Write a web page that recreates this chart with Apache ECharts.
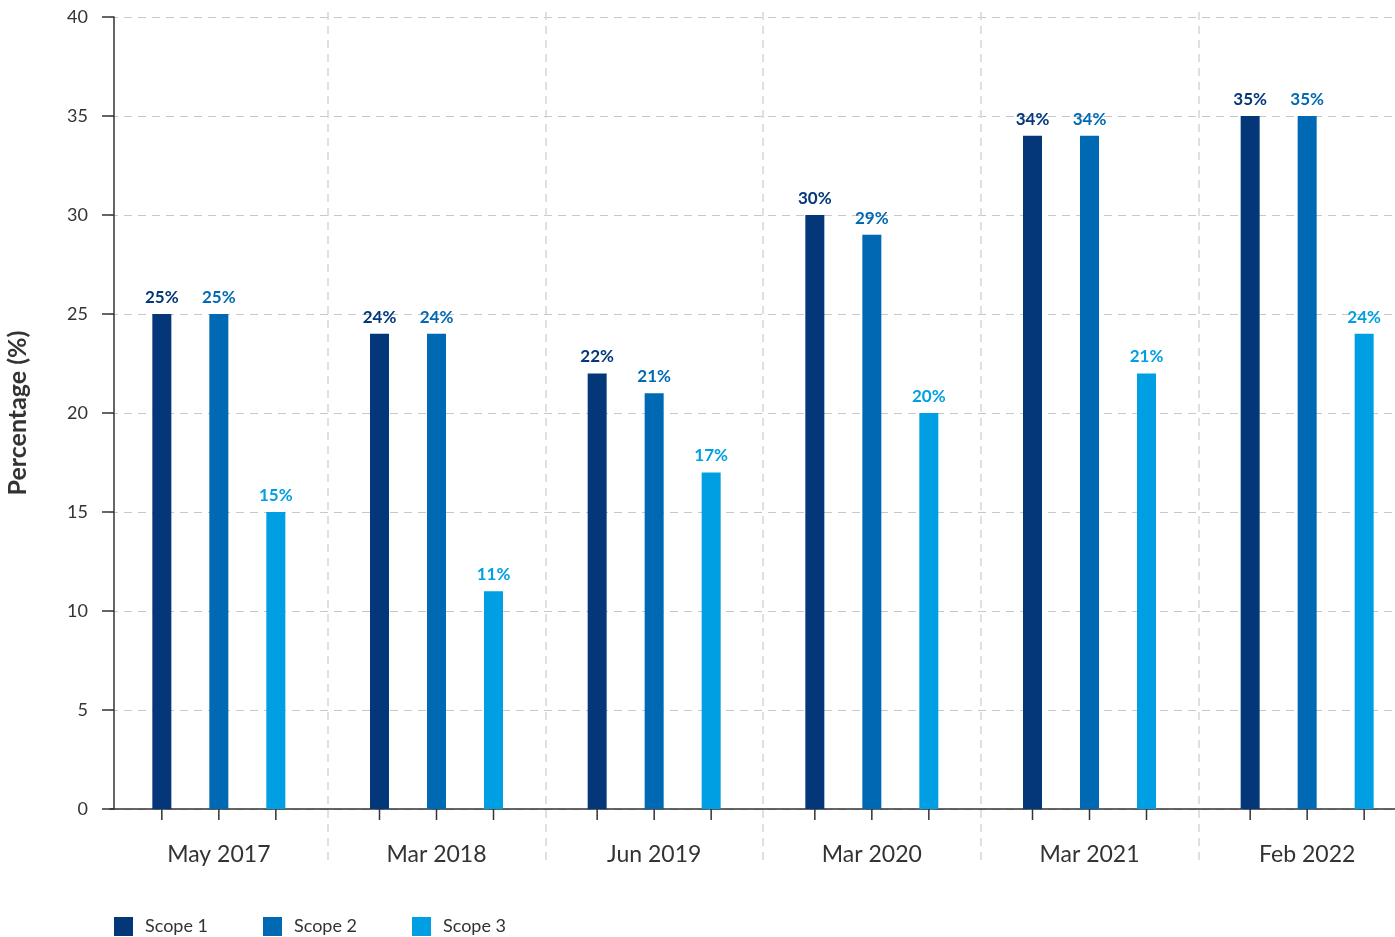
<!DOCTYPE html>
<html>
<head>
<meta charset="utf-8">
<script src="https://cdn.jsdelivr.net/npm/echarts@6/dist/echarts.min.js"></script>
<style>
html,body{margin:0;padding:0;background:#fff;}
#chart{width:1395px;height:937px;}
</style>
</head>
<body>
<div id="chart"></div>
<script>
const categories = ['May 2017', 'Mar 2018', 'Jun 2019', 'Mar 2020', 'Mar 2021', 'Feb 2022'];
const seriesNames = ['Scope 1', 'Scope 2', 'Scope 3'];
const scope1 = [25, 24, 22, 30, 34, 35];
const scope2 = [25, 24, 21, 29, 34, 35];
const scope3 = [15, 11, 17, 20, 22, 24];
const scope1Labels = ['25%', '24%', '22%', '30%', '34%', '35%'];
const scope2Labels = ['25%', '24%', '21%', '29%', '34%', '35%'];
const scope3Labels = ['15%', '11%', '17%', '20%', '21%', '24%'];
const yTicks = [0, 5, 10, 15, 20, 25, 30, 35, 40];

const colors = ['#03377a', '#0069b4', '#009fe3'];
const FONT = 'Lato';
const BAR_W = 19;
const BAR_GAP = 2; // 200%
const step = BAR_W * (1 + BAR_GAP);

const chart = echarts.init(document.getElementById('chart'));

function barSeries(name, data, labels, color) {
  return {
    name: name,
    type: 'bar',
    xAxisIndex: 0,
    yAxisIndex: 0,
    data: data,
    barWidth: BAR_W,
    barGap: (BAR_GAP * 100) + '%',
    itemStyle: { color: color },
    label: {
      show: true,
      position: 'top',
      distance: 8,
      fontFamily: FONT,
      fontWeight: 'bold',
      fontSize: 17,
      color: color,
      formatter: p => labels[p.dataIndex]
    }
  };
}

const option = {
  animation: false,
  backgroundColor: '#fff',
  color: colors,
  grid: [
    { left: 110, width: 1306, top: 17, bottom: 128, containLabel: false, outerBoundsMode: 'none' },
    { left: 110, width: 1306, top: 12, bottom: 72, containLabel: false, outerBoundsMode: 'none' }
  ],
  legend: {
    left: 109,
    top: 912,
    itemWidth: 19,
    itemHeight: 19,
    itemGap: 55,
    icon: 'rect',
    textStyle: { fontFamily: FONT, fontSize: 18, color: '#333', padding: [0, 0, 0, 7] },
    data: seriesNames
  },
  xAxis: [
    {
      type: 'category',
      gridIndex: 0,
      data: categories,
      axisLine: { show: true, lineStyle: { color: '#333', width: 1.5 } },
      axisTick: { show: false },
      axisLabel: { fontFamily: FONT, fontSize: 23, color: '#333', margin: 34 },
      splitLine: { show: false }
    },
    {
      type: 'category',
      gridIndex: 1,
      data: categories,
      axisLine: { show: false },
      axisTick: { show: false },
      axisLabel: { show: false },
      splitLine: {
        show: true,
        interval: (i) => i > 0,
        lineStyle: { color: '#d6d6d6', type: [8, 6], width: 1.5 }
      }
    }
  ],
  yAxis: [
    {
      type: 'value',
      gridIndex: 0,
      min: 0,
      max: 40,
      interval: 5,
      offset: -4,
      name: 'Percentage (%)',
      nameLocation: 'middle',
      nameGap: 84,
      nameTextStyle: { fontFamily: FONT, fontSize: 25, fontWeight: 'bold', color: '#333' },
      axisLine: { show: true, lineStyle: { color: '#333', width: 1.5 } },
      axisTick: { show: true, inside: false, length: 12, lineStyle: { color: '#333', width: 1.5 } },
      axisLabel: {
        fontFamily: FONT, fontSize: 18, color: '#333', margin: 26,
        formatter: v => yTicks.includes(v) ? String(v) : ''
      },
      splitLine: { show: true, lineStyle: { color: '#c8c8c8', type: [8, 6], width: 1 } }
    },
    {
      type: 'value',
      gridIndex: 1,
      show: false
    }
  ],
  series: [
    barSeries(seriesNames[0], scope1, scope1Labels, colors[0]),
    barSeries(seriesNames[1], scope2, scope2Labels, colors[1]),
    barSeries(seriesNames[2], scope3, scope3Labels, colors[2]),
    {
      type: 'custom',
      xAxisIndex: 0,
      yAxisIndex: 0,
      silent: true,
      clip: false,
      data: categories.map((c, i) => [i, 0]),
      renderItem: function (params, api) {
        const p = api.coord([api.value(0), 0]);
        const children = [-step, 0, step].map(dx => ({
          type: 'line',
          shape: { x1: p[0] + dx, y1: p[1], x2: p[0] + dx, y2: p[1] + 11 },
          style: { stroke: '#333', lineWidth: 1.5 }
        }));
        return { type: 'group', children: children };
      },
      z: 5
    }
  ]
};

chart.setOption(option);
</script>
</body>
</html>
